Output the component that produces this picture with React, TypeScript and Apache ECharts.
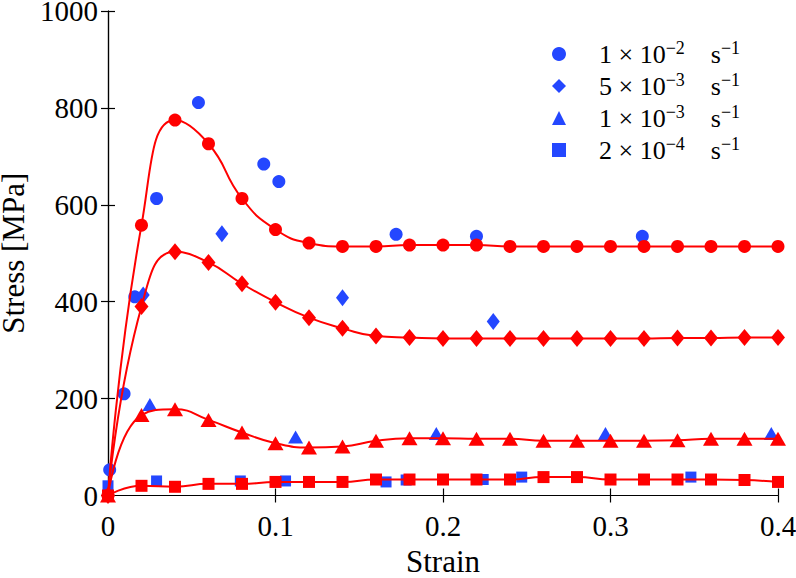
import React, { useEffect, useRef } from "react";
import * as echarts from "echarts";

// Model strain grid (red curves)
const modelStrain = [0, 0.02, 0.04, 0.06, 0.08, 0.1, 0.12, 0.14, 0.16, 0.18, 0.2, 0.22, 0.24, 0.26, 0.28, 0.3, 0.32, 0.34, 0.36, 0.38, 0.4];
// Model stress values [MPa]
const model1e2 = [0, 558, 775, 726, 613, 549, 521, 514, 514, 517, 517, 517, 514, 514, 514, 514, 514, 514, 514, 514, 514];
const model5e3 = [0, 390, 503, 481, 437, 399, 367, 345, 329, 326, 324, 324, 324, 324, 324, 324, 324, 325, 325, 326, 326];
const model1e3 = [0, 166, 178, 156, 130, 108, 99, 101, 113, 118, 118, 117, 117, 113, 113, 113, 113, 114, 117, 117, 117];
const model2e4 = [0, 20, 18, 24, 24, 28, 28, 28, 33, 33, 33, 33, 33, 38, 38, 33, 33, 33, 33, 32, 28];

// Experimental points [strain, stress]
const exp1e2 = [[0.001, 53], [0.0096, 210], [0.016, 410], [0.029, 613], [0.054, 811], [0.093, 684], [0.102, 648], [0.172, 539], [0.22, 535], [0.319, 535]];
const exp5e3 = [[0.021, 414], [0.068, 540], [0.14, 408], [0.23, 359]];
const exp1e3 = [[0.025, 188], [0.112, 121], [0.196, 128], [0.297, 128], [0.396, 128]];
const exp2e4 = [[0, 20], [0.029, 30], [0.079, 30], [0.106, 30], [0.166, 28], [0.178, 32], [0.224, 33], [0.247, 38], [0.348, 38]];

const legendNames = ["1 × 10{sup|−2}    s{sup|−1}", "5 × 10{sup|−3}    s{sup|−1}", "1 × 10{sup|−3}    s{sup|−1}", "2 × 10{sup|−4}    s{sup|−1}"];

const xTicks = { min: 0, max: 0.4, interval: 0.1 };
const yTicks = { min: 0, max: 1000, interval: 200 };

const RED = "#ff0000";
const BLUE = "#2447ff";
const FONT = "Liberation Serif";

export default function App() {
  const ref = useRef<HTMLDivElement>(null);
  useEffect(() => {
    if (!ref.current) return;
    const chart = echarts.init(ref.current, undefined, { renderer: "svg" });
    const zip = (ys: number[]) => modelStrain.map((x, i) => [x, ys[i]]);
    const axisCommon = {
      axisLine: { show: true, lineStyle: { color: "#000", width: 1.2 } },
      axisTick: { show: true, inside: true, length: 7, lineStyle: { color: "#000", width: 1.2 } },
      splitLine: { show: false },
    };
    const blueSymbols = ["circle", "diamond", "triangle", "rect"];
    const blueSizes: any[] = [13, [13, 17], [15, 13], 11];
    const redSizes: any[] = [13, [14, 17], [16, 14], 12];
    const expData = [exp1e2, exp5e3, exp1e3, exp2e4];
    const modelData = [model1e2, model5e3, model1e3, model2e4];
    const series: any[] = [];
    expData.forEach((d, i) => {
      series.push({
        type: "scatter",
        name: legendNames[i],
        data: d,
        symbol: blueSymbols[i],
        symbolSize: blueSizes[i],
        itemStyle: { color: BLUE, opacity: 1 },
        z: 2,
        clip: false,
      });
    });
    modelData.forEach((d, i) => {
      series.push({
        type: "line",
        name: "model" + i,
        data: zip(d),
        smooth: 0.5,
        symbol: blueSymbols[i],
        symbolSize: redSizes[i],
        showAllSymbol: true,
        lineStyle: { color: RED, width: 2 },
        itemStyle: { color: RED, opacity: 1 },
        z: 3,
        clip: false,
      });
    });
    chart.setOption({
      animation: false,
      backgroundColor: "#fff",
      textStyle: { fontFamily: FONT },
      grid: { left: 108, right: 18, top: 11, bottom: 82.5, outerBoundsMode: "none", containLabel: false },
      legend: {
        data: legendNames,
        orient: "vertical",
        left: 552,
        top: 39,
        padding: 0,
        itemWidth: 14,
        itemHeight: 14,
        itemGap: 2,
        selectedMode: false,
        textStyle: {
          fontFamily: FONT,
          fontSize: 26,
          lineHeight: 30,
          color: "#000",
          padding: [0, 0, 0, 28],
          rich: {
            sup: { fontSize: 18, lineHeight: 30, fontFamily: FONT, color: "#000", padding: [0, 0, 12, 0] },
          },
        },
      },
      xAxis: [
        {
          type: "value",
          ...xTicks,
          ...axisCommon,
          name: "Strain",
          nameLocation: "middle",
          nameGap: 50,
          nameTextStyle: { fontFamily: FONT, fontSize: 31, color: "#000" },
          axisLabel: {
            fontFamily: FONT,
            fontSize: 29,
            color: "#000",
            margin: 16,
            formatter: (v: number) => String(Math.round(v * 10) / 10),
          },
        },
        {
          type: "value",
          position: "top",
          ...xTicks,
          ...axisCommon,
          axisLabel: { show: false },
        },
      ],
      yAxis: [
        {
          type: "value",
          ...yTicks,
          ...axisCommon,
          name: "Stress [MPa]",
          nameLocation: "middle",
          nameRotate: 90,
          nameGap: 78,
          nameTextStyle: { fontFamily: FONT, fontSize: 31, color: "#000" },
          axisLabel: {
            fontFamily: FONT,
            fontSize: 29,
            color: "#000",
            margin: 10,
            formatter: (v: number) => String(v),
          },
        },
        {
          type: "value",
          position: "right",
          ...yTicks,
          ...axisCommon,
          axisLabel: { show: false },
        },
      ],
      series,
    });
    return () => chart.dispose();
  }, []);
  return <div ref={ref} style={{ width: 796, height: 578, position: "absolute", left: 0, top: 0 }} />;
}
